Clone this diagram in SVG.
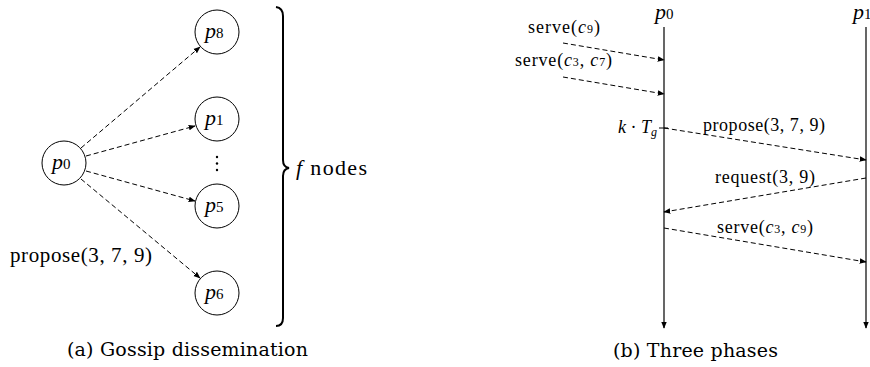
<svg xmlns="http://www.w3.org/2000/svg" width="870" height="367" viewBox="0 0 870 367" font-family="'Liberation Serif', serif">
<style>
text{font-family:'Liberation Serif',serif;fill:#000}
.m{font-style:italic}
.cap{font-family:'DejaVu Serif',serif;font-size:19px}
.node{fill:#fff;stroke:#000;stroke-width:1}
.msg{fill:none;stroke:#000;stroke-width:1;stroke-dasharray:5,3;marker-end:url(#ah)}
.life{fill:none;stroke:#000;stroke-width:1.2;marker-end:url(#ah)}
</style>
<defs>
<marker id="ah" viewBox="0 0 10 10" refX="9" refY="5" markerWidth="7" markerHeight="7" markerUnits="userSpaceOnUse" orient="auto">
<path d="M0,1 L10,5 L0,9 Z" fill="#000"/>
</marker>
</defs>
<g id="connectors">
<line class="msg" x1="81" y1="148" x2="200" y2="47"/>
<line class="msg" x1="86" y1="156" x2="195" y2="126"/>
<line class="msg" x1="86" y1="171" x2="195" y2="201"/>
<line class="msg" x1="81" y1="179" x2="200" y2="278"/>
<line class="life" x1="664" y1="27" x2="664" y2="328"/>
<line class="life" x1="866" y1="27" x2="866" y2="328"/>
<line class="msg" x1="563" y1="43" x2="664" y2="60"/>
<line class="msg" x1="563" y1="77" x2="664" y2="94"/>
<line x1="659" y1="128" x2="668" y2="128" stroke="#000" stroke-width="1"/>
<line class="msg" x1="664" y1="128" x2="866" y2="160"/>
<line class="msg" x1="866" y1="178" x2="664" y2="212"/>
<line class="msg" x1="664" y1="228" x2="866" y2="262"/>
</g>
<g id="p0">
<circle class="node" cx="64" cy="163" r="22"/>
<text x="52" y="169" font-size="22"><tspan class="m">p</tspan><tspan font-size="15">0</tspan></text>
</g>
<g id="p8">
<circle class="node" cx="217" cy="32" r="22"/>
<text x="205" y="38" font-size="22"><tspan class="m">p</tspan><tspan font-size="15">8</tspan></text>
</g>
<g id="p1">
<circle class="node" cx="217" cy="119" r="22"/>
<text x="205" y="125" font-size="22"><tspan class="m">p</tspan><tspan font-size="15">1</tspan></text>
</g>
<g id="dots">
<circle cx="217" cy="157" r="1.2"/>
<circle cx="217" cy="163.5" r="1.2"/>
<circle cx="217" cy="170" r="1.2"/>
</g>
<g id="p5">
<circle class="node" cx="217" cy="206" r="22"/>
<text x="205" y="212" font-size="22"><tspan class="m">p</tspan><tspan font-size="15">5</tspan></text>
</g>
<g id="p6">
<circle class="node" cx="217" cy="293" r="22"/>
<text x="205" y="299" font-size="22"><tspan class="m">p</tspan><tspan font-size="15">6</tspan></text>
</g>
<g id="brace">
<path d="M276,7 Q283,8 283,16 L283,160 Q283,167 289,168 Q283,169 283,176 L283,318 Q283,326 276,326" fill="none" stroke="#000" stroke-width="2"/>
<text x="296" y="175" font-size="22" textLength="71"><tspan class="m">f</tspan> nodes</text>
</g>
<text x="10" y="262" font-size="21" textLength="142">propose(3, 7, 9)</text>
<text class="cap" x="67" y="356" textLength="241">(a) Gossip dissemination</text>
<g id="lifeline-labels">
<text x="655" y="19" font-size="22"><tspan class="m">p</tspan><tspan font-size="15">0</tspan></text>
<text x="853" y="19" font-size="22"><tspan class="m">p</tspan><tspan font-size="15">1</tspan></text>
</g>
<g id="msg-labels">
<text x="528" y="33" font-size="18" textLength="72">serve(<tspan class="m">c</tspan><tspan font-size="12">9</tspan>)</text>
<text x="515" y="66" font-size="18" textLength="97">serve(<tspan class="m">c</tspan><tspan font-size="12">3</tspan>, <tspan class="m">c</tspan><tspan font-size="12">7</tspan>)</text>
<text x="657" y="133" font-size="18" text-anchor="end"><tspan class="m">k</tspan> · <tspan class="m">T</tspan><tspan class="m" font-size="12" dy="3">g</tspan></text>
<text x="703" y="131" font-size="18" textLength="122">propose(3, 7, 9)</text>
<text x="715" y="183" font-size="18" textLength="100">request(3, 9)</text>
<text x="717" y="233" font-size="18" textLength="96">serve(<tspan class="m">c</tspan><tspan font-size="12">3</tspan>, <tspan class="m">c</tspan><tspan font-size="12">9</tspan>)</text>
</g>
<text class="cap" x="613" y="357" textLength="165">(b) Three phases</text>
</svg>
